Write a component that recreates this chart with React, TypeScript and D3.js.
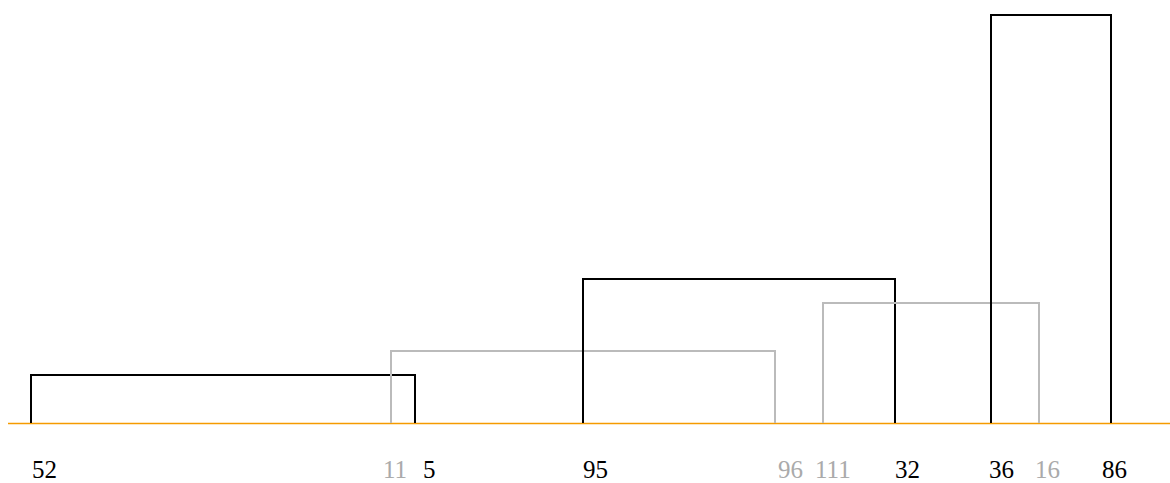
import React from "react";
import * as d3 from "d3";

const nodeLabels = ["52", "11", "5", "95", "96", "111", "32", "36", "16", "86"];
const nodePositions = [0, 15, 16, 23, 31, 33, 36, 40, 42, 45];
const nodeGroups = ["a", "b", "a", "a", "b", "b", "a", "a", "b", "a"];
const labelShift = [1, -8, 8, 0, 3, -8, 0, -2, -4, -9];

const linkSources = ["52", "11", "95", "111", "36"];
const linkTargets = ["5", "96", "32", "16", "86"];
const linkValues = [2, 3, 6, 5, 17];

const W = 1170;
const H = 483;

export default function App() {
  const x = d3.scaleLinear().domain([0, 45]).range([31, 1111]);
  const y = d3.scaleLinear().domain([0, 17]).range([423, 15]);
  const color = d3.scaleOrdinal<string, string>().domain(["a", "b"]).range(["#000000", "#bbbbbb"]);
  const labelColor = d3.scaleOrdinal<string, string>().domain(["a", "b"]).range(["#000000", "#aaaaaa"]);

  const pos = new Map(nodeLabels.map((n, i) => [n, nodePositions[i]]));
  const grp = new Map(nodeLabels.map((n, i) => [n, nodeGroups[i]]));

  const links = linkSources.map((s, i) => ({ s, t: linkTargets[i], v: linkValues[i] }));
  const line = d3.line<[number, number]>();

  return (
    <svg
      width={W}
      height={H}
      style={{ display: "block", position: "absolute", left: 0, top: 0 }}
    >
      <line x1={8} x2={W} y1={y(0) + 0.5} y2={y(0) + 0.5} stroke="#f59b00" strokeWidth={1.5} />
      {links.map((l, i) => {
        const x0 = x(pos.get(l.s)!);
        const x1 = x(pos.get(l.t)!);
        const pts: [number, number][] = [
          [x0, y(0)],
          [x0, y(l.v)],
          [x1, y(l.v)],
          [x1, y(0)],
        ];
        return (
          <path
            key={i}
            d={line(pts)!}
            fill="none"
            stroke={color(grp.get(l.s)!)}
            strokeWidth={2}
          />
        );
      })}
      {nodeLabels.map((n, i) => (
        <text
          key={n}
          x={x(nodePositions[i])}
          dx={labelShift[i]}
          y={478}
          fontFamily="'Liberation Serif', 'Times New Roman', serif"
          fontSize={25}
          fill={labelColor(nodeGroups[i])}
        >
          {n}
        </text>
      ))}
    </svg>
  );
}
